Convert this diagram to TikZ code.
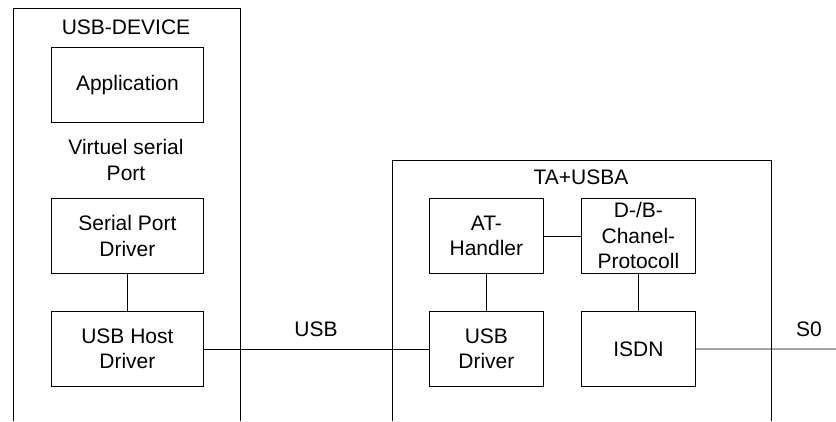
\documentclass[tikz,border=0pt]{standalone}
\usepackage{fontspec}
\setmainfont{Liberation Sans}
\begin{document}
\begin{tikzpicture}[x=1pt,y=-1pt,
  every node/.style={font=\fontsize{21}{25.5}\selectfont},
  blk/.style={draw, line width=0.8pt, minimum width=152pt, minimum height=75pt, inner sep=0pt, align=center, anchor=north west},
  blk2/.style={draw, line width=0.8pt, minimum width=114pt, minimum height=75pt, inner sep=0pt, align=center, anchor=north west},
  lbl/.style={inner sep=0pt, anchor=base},
  conn/.style={line width=0.8pt}]
\useasboundingbox (0,0) rectangle (836,421);
% containers
\draw[conn] (13,421) -- (13,8) -- (240,8) -- (240,421);
\draw[conn] (392,421) -- (392,160) -- (771,160) -- (771,421);
\node[lbl] (t1) at (126,34) {USB-DEVICE};
\node[lbl] (t2) at (581,184) {TA+USBA};
% left column
\node[blk] (app) at (51,47) {Application};
\node[inner sep=0pt, align=center] (vsp) at (126,160) {Virtuel serial\\Port};
\node[blk] (spd) at (51,198) {Serial Port\\Driver};
\node[blk] (uhd) at (51,311) {USB Host\\Driver};
% right
\node[blk2] (at) at (429,198) {AT-\\Handler};
\node[blk2] (dbp) at (581,198) {D-/B-\\Chanel-\\Protocoll};
\node[blk2] (usbd) at (429,311) {USB\\Driver};
\node[blk2] (isdn) at (581,311) {ISDN};
\coordinate (s0end) at (836,349);
% connectors
\draw[conn] (spd) -- (uhd);
\draw[conn] (uhd) -- (usbd);
\draw[conn] (at) -- (dbp);
\draw[conn] (at) -- (usbd);
\draw[conn] (dbp) -- (isdn);
\draw[conn] (isdn) -- (s0end);
\node[lbl] (usbl) at (316,336) {USB};
\node[lbl] (s0l) at (809,336) {S0};
\end{tikzpicture}
\end{document}
